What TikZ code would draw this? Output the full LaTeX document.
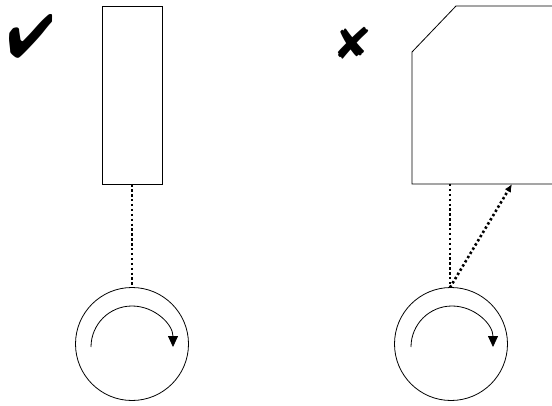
\documentclass[tikz,border=0pt]{standalone}
\usepackage{pifont}
\usepackage{graphicx}
\usetikzlibrary{arrows.meta}
\tikzset{
  outline/.style={draw=black, line width=0.8pt},
  wheel/.style={outline, circle, minimum size=113pt, inner sep=0pt},
  bar/.style={outline, rectangle, minimum width=60pt, minimum height=178pt, inner sep=0pt},
  dotline/.style={line width=2.6pt, dash pattern=on 2.4pt off 2.5pt},
  spin/.style={line width=0.8pt, -{Triangle[length=11pt,width=10pt]}},
  symbolnode/.style={inner sep=0pt}
}
\begin{document}
\begin{tikzpicture}[x=1pt,y=1pt]
\useasboundingbox (0,0) rectangle (552,405);
% left: correct
\node[symbolnode] (ok) at (31.5,369) {\resizebox*{47pt}{44pt}{\ding{52}}};
\node[bar] (lbar) at (132,310) {};
\node[wheel] (lwheel) at (132,61) {};
\draw[dotline] (lbar.south) -- (lwheel.north);
\draw[spin] (91,58) arc[start angle=180, end angle=0, radius=41pt];
% right: wrong
\node[symbolnode] (bad) at (353,362) {\resizebox*{34pt}{32pt}{\ding{56}}};
\draw[outline] (553,399) -- (456,399) -- (412,353) -- (412,221) -- (553,221);
\coordinate (rb1) at (450,221);
\coordinate (rb2) at (512,221);
\node[wheel] (rwheel) at (451,61) {};
\coordinate (rtop) at (450,117.5);
\draw[dotline] (rb1) -- (rtop);
\draw[dotline, -{Latex[length=8pt,width=7pt,sep=0pt]}] (rtop) -- (rb2);
\draw[spin] (411,58) arc[start angle=180, end angle=0, radius=41pt];
\end{tikzpicture}
\end{document}
